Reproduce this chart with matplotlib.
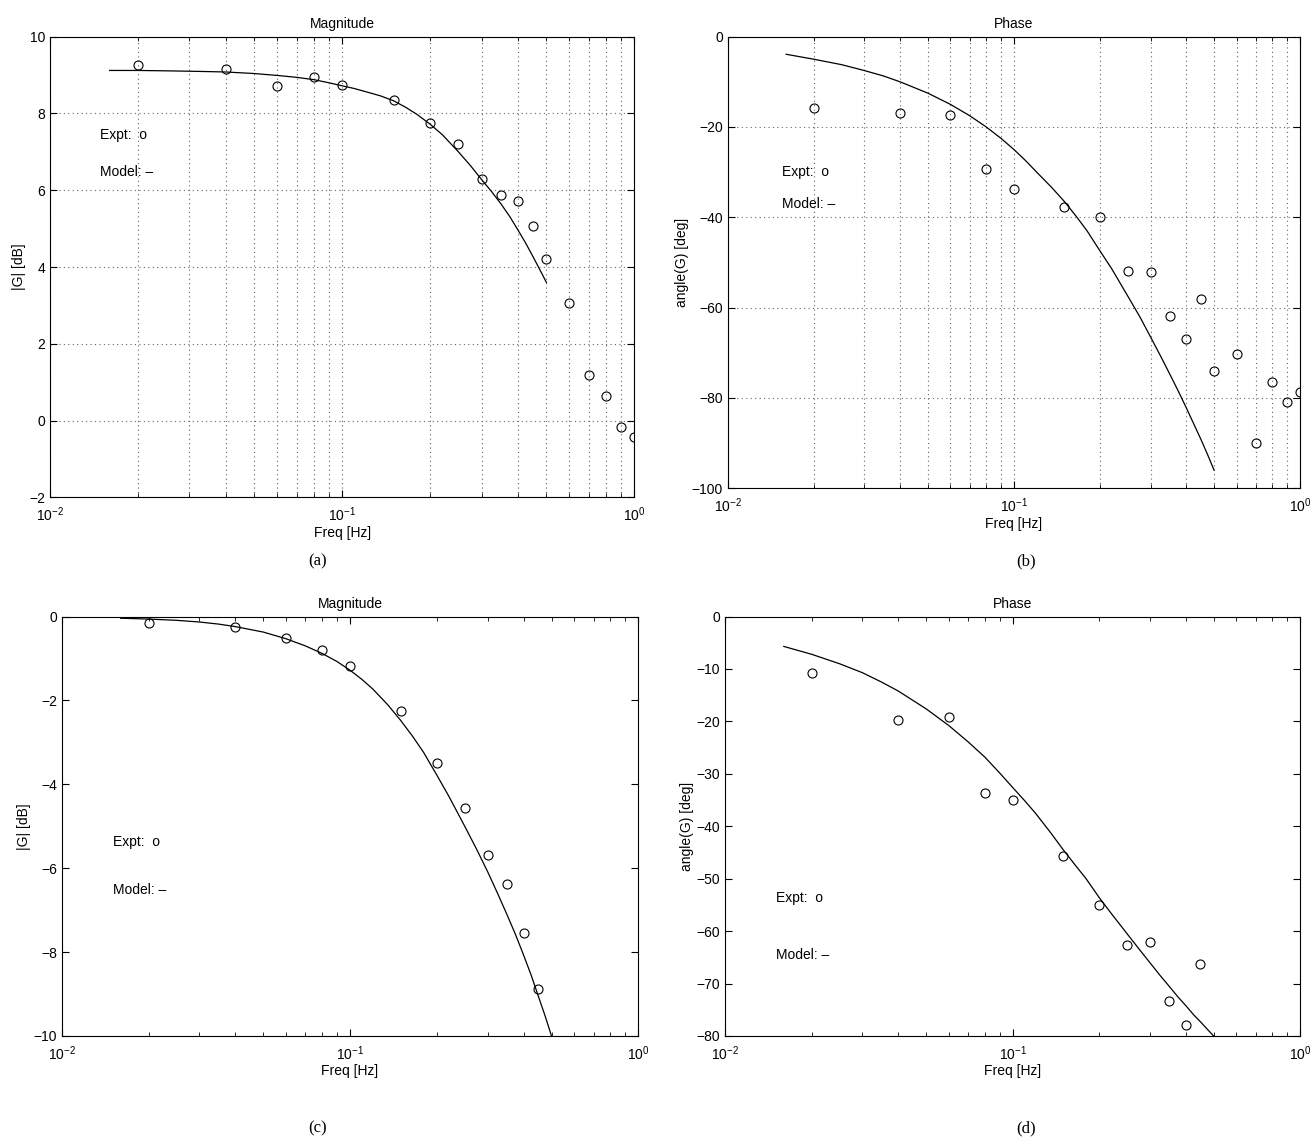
import matplotlib
matplotlib.use("Agg")
import matplotlib.pyplot as plt
from matplotlib.ticker import LogLocator, NullFormatter

plt.rcParams['font.family'] = ['Liberation Sans', 'DejaVu Sans']
plt.rcParams['font.size'] = 10

# experiment frequencies
f_top = [0.02, 0.04, 0.06, 0.08, 0.1, 0.15, 0.2, 0.25, 0.3, 0.35, 0.4, 0.45,
         0.5, 0.6, 0.7, 0.8, 0.9, 1.0]
f_bot = [0.02, 0.04, 0.06, 0.08, 0.1, 0.15, 0.2, 0.25, 0.3, 0.35, 0.4, 0.45]

# (a) magnitude, measured
mag_a = [9.25, 9.15, 8.72, 8.95, 8.75, 8.35, 7.75, 7.2, 6.3, 5.88, 5.73, 5.06,
         4.21, 3.06, 1.18, 0.65, -0.18, -0.43]
# (b) phase, measured
ph_b = [-15.7, -16.9, -17.4, -29.3, -33.7, -37.8, -39.9, -52.0, -52.2, -61.9,
        -66.9, -58.1, -74.1, -70.2, -90.1, -76.4, -81.0, -78.6]
# (c) magnitude, measured
mag_c = [-0.15, -0.24, -0.52, -0.8, -1.19, -2.25, -3.48, -4.57, -5.68, -6.37,
         -7.54, -8.87]
# (d) phase, measured
ph_d = [-10.8, -19.8, -19.2, -33.7, -35.0, -45.6, -55.1, -62.6, -62.1, -73.4,
        -78.0, -66.2]

# model curves
f_mod = [0.016, 0.02, 0.025, 0.03, 0.035, 0.04, 0.05, 0.06, 0.07, 0.08,
         0.09, 0.1, 0.11, 0.12, 0.135, 0.15, 0.165, 0.18, 0.2, 0.22,
         0.25, 0.275, 0.3, 0.325, 0.35, 0.375, 0.4, 0.425, 0.45, 0.475, 0.5]
mod_a = [9.12, 9.12, 9.11, 9.1, 9.09, 9.08, 9.04, 8.99, 8.94, 8.88,
         8.80, 8.72, 8.65, 8.57, 8.46, 8.33, 8.16, 7.98, 7.72, 7.45,
         7.0, 6.64, 6.28, 5.96, 5.64, 5.31, 4.96, 4.62, 4.27, 3.93, 3.6]
mod_b = [-3.9, -5.0, -6.2, -7.5, -8.7, -10.0, -12.5, -15.0, -17.5, -20.0,
         -22.5, -25.0, -27.5, -30.0, -33.3, -36.5, -39.8, -43.0, -47.5, -51.5,
         -57.5, -62.0, -66.5, -70.7, -74.7, -78.5, -82.2, -85.8, -89.2, -92.6, -96.0]
mod_c = [-0.04, -0.06, -0.09, -0.13, -0.18, -0.24, -0.37, -0.53, -0.7, -0.88,
         -1.07, -1.28, -1.5, -1.73, -2.1, -2.48, -2.86, -3.24, -3.78, -4.28,
         -5.0, -5.55, -6.08, -6.6, -7.1, -7.58, -8.07, -8.55, -9.05, -9.52, -10.0]
mod_d = [-5.7, -7.2, -9.0, -10.7, -12.5, -14.2, -17.6, -20.8, -23.9, -26.8,
         -29.8, -32.6, -35.1, -37.5, -41.1, -44.5, -47.4, -50.0, -53.6, -56.6,
         -60.5, -63.4, -66.0, -68.4, -70.5, -72.5, -74.2, -75.9, -77.3, -78.7, -80.0]

fig = plt.figure(figsize=(13.16, 11.46), dpi=100)

panels = [
    # rect, f, meas, model, ylim, yticks, ylabel, title, grid, text pos, tag
    ([0.038, 0.566, 0.444, 0.402], f_top, mag_a, mod_a, (-2, 10), range(-2, 11, 2),
     '|G| [dB]', 'Magnitude', True, (0.086, 0.787, 0.707), '(a)', (0.241, 0.507)),
    ([0.553, 0.574, 0.435, 0.394], f_top, ph_b, mod_b, (-100, 0), range(-100, 1, 20),
     'angle(G) [deg]', 'Phase', True, (0.094, 0.70, 0.63), '(b)', (0.780, 0.507)),
    ([0.047, 0.096, 0.438, 0.366], f_bot, mag_c, mod_c, (-10, 0), range(-10, 1, 2),
     '|G| [dB]', 'Magnitude', False, (0.089, 0.463, 0.348), '(c)', (0.241, 0.012)),
    ([0.551, 0.096, 0.437, 0.366], f_bot, ph_d, mod_d, (-80, 0), range(-80, 1, 10),
     'angle(G) [deg]', 'Phase', False, (0.088, 0.329, 0.193), '(d)', (0.780, 0.012)),
]

for rect, f, meas, mod, ylim, yt, ylab, title, grid, tpos, tag, tagpos in panels:
    ax = fig.add_axes(rect)
    ax.semilogx(f_mod, mod, '-', color='black', lw=0.9)
    ax.semilogx(f, meas, 'o', mfc='none', mec='black', ms=6.5, mew=0.8)
    ax.set_xlim(0.01, 1.0)
    ax.set_ylim(*ylim)
    ax.set_yticks(list(yt))
    ax.xaxis.set_minor_locator(LogLocator(base=10, subs=range(2, 10)))
    ax.xaxis.set_minor_formatter(NullFormatter())
    ax.tick_params(which='both', direction='in', top=True, right=True)
    ax.tick_params(which='major', length=5)
    ax.tick_params(which='minor', length=3)
    ax.tick_params(axis='x', which='major', pad=6)
    if grid:
        ax.grid(True, which='major', linestyle=(0, (1, 3)), color='0.4', lw=0.8)
        ax.grid(True, which='minor', axis='x', linestyle=(0, (1, 3)), color='0.4', lw=0.8)
    ax.set_xlabel('Freq [Hz]', labelpad=1)
    ax.set_ylabel(ylab, labelpad=2)
    ax.set_title(title, fontsize=10, pad=6)
    ax.text(tpos[0], tpos[1], 'Expt:  o', transform=ax.transAxes, va='center')
    ax.text(tpos[0], tpos[2], 'Model: \u2013', transform=ax.transAxes, va='center')
    fig.text(tagpos[0], tagpos[1], tag, ha='center', fontsize=12,
             family=['Liberation Serif', 'DejaVu Serif'])

fig.savefig('out.png', dpi=100)
